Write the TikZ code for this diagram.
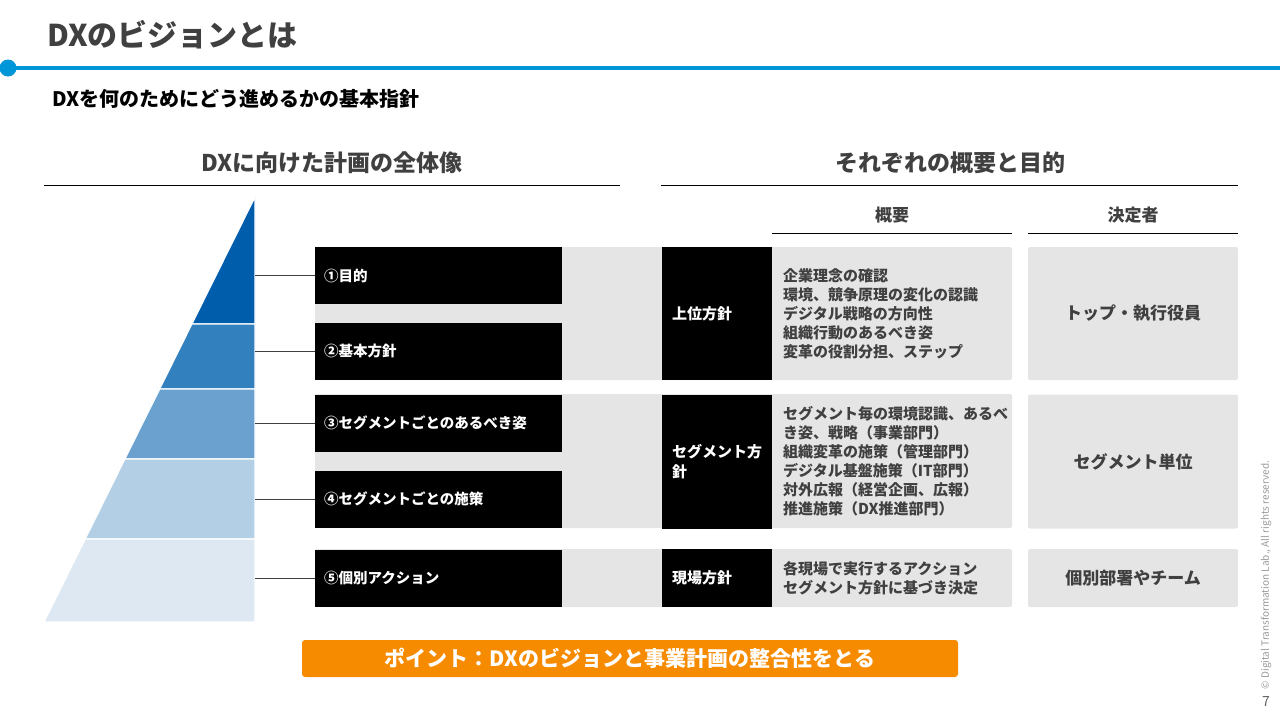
\documentclass[tikz,border=0pt]{standalone}
\usepackage{fontspec}
\setmainfont{Noto Sans CJK JP}

\definecolor{inkgray}{HTML}{404040}
\definecolor{ruleblue}{HTML}{0096D8}
\definecolor{panelgray}{HTML}{E5E5E5}
\definecolor{pointorange}{HTML}{F78B00}
\definecolor{tierA}{HTML}{005DAC}
\definecolor{tierB}{HTML}{3380BF}
\definecolor{tierC}{HTML}{6AA1CF}
\definecolor{tierD}{HTML}{B3CFE5}
\definecolor{tierE}{HTML}{DDE8F3}

\begin{document}
\begin{tikzpicture}[x=1pt, y=-1pt,
  every node/.style={inner sep=0pt},
  headtext/.style={text=inkgray, font=\bfseries\fontsize{23}{26}\selectfont},
  colhead/.style={text=inkgray, font=\bfseries\fontsize{17}{20}\selectfont},
  lvbox/.style={fill=black, text=white, text width=229pt, inner xsep=9pt, align=left,
    minimum height=57pt, font=\bfseries\fontsize{14.5}{18}\selectfont},
  polbox/.style={fill=black, text=white, text width=90pt, inner xsep=10pt, align=left,
    font=\bfseries\fontsize{15}{20}\selectfont},
  desc/.style={anchor=west, text=inkgray, align=left, font=\bfseries\fontsize{15}{19}\selectfont},
  whobox/.style={fill=panelgray, rounded corners=2pt, minimum width=210pt, text=inkgray,
    font=\bfseries\fontsize{17}{20}\selectfont},
  tier/.style={draw=white, line width=1.2pt}]
\useasboundingbox (0,0) rectangle (1280,720);

% title and blue rule
\node[anchor=west, text=inkgray, font=\bfseries\fontsize{30}{34}\selectfont] (title) at (47,35) {DXのビジョンとは};
\node[circle, fill=ruleblue, minimum size=17pt] (dot) at (8,68) {};
\coordinate (ruleend) at (1280,68);
\draw[ruleblue, line width=3.5pt] (dot.center) -- (ruleend);
\node[anchor=west, font=\bfseries\fontsize{20}{23}\selectfont] (subtitle) at (52,99) {DXを何のためにどう進めるかの基本指針};

% section headings
\node[headtext] (headL) at (332,163) {DXに向けた計画の全体像};
\draw[line width=1pt] (44,185) -- (620,185);
\node[headtext] (headR) at (950,163) {それぞれの概要と目的};
\draw[line width=1pt] (661,185) -- (1238,185);
\node[colhead] (hGaiyo) at (892,215) {概要};
\draw[line width=1pt] (772,233) -- (1012,233);
\node[colhead] (hKettei) at (1133,215) {決定者};
\draw[line width=1pt] (1028,233) -- (1238,233);

% pyramid
\fill[tierA, tier] (255,197) -- (191.9,324) -- (255,324) -- cycle;
\fill[tierB, tier] (191.9,324) -- (159.7,389) -- (255,389) -- (255,324) -- cycle;
\fill[tierC, tier] (159.7,389) -- (124.9,459) -- (255,459) -- (255,389) -- cycle;
\fill[tierD, tier] (124.9,459) -- (85.2,539) -- (255,539) -- (255,459) -- cycle;
\fill[tierE, tier] (85.2,539) -- (44,622) -- (255,622) -- (255,539) -- cycle;

% gray rows
\fill[panelgray, rounded corners=2pt] (315,247) rectangle (1012,380);
\fill[panelgray, rounded corners=2pt] (315,394) rectangle (1012,528);
\fill[panelgray, rounded corners=2pt] (315,549) rectangle (1012,607);

% levels
\node[lvbox] (lv1) at (438.5,275.5) {①目的};
\node[lvbox] (lv2) at (438.5,351) {②基本方針};
\node[lvbox] (lv3) at (438.5,423) {③セグメントごとのあるべき姿};
\node[lvbox] (lv4) at (438.5,499) {④セグメントごとの施策};
\node[lvbox] (lv5) at (438.5,578) {⑤個別アクション};

\coordinate (t1) at (255,275.5);
\coordinate (t2) at (255,351);
\coordinate (t3) at (255,423);
\coordinate (t4) at (255,499);
\coordinate (t5) at (255,578);
\draw[inkgray, line width=1pt] (t1) -- (lv1.west);
\draw[inkgray, line width=1pt] (t2) -- (lv2.west);
\draw[inkgray, line width=1pt] (t3) -- (lv3.west);
\draw[inkgray, line width=1pt] (t4) -- (lv4.west);
\draw[inkgray, line width=1pt] (t5) -- (lv5.west);

% policies
\node[polbox, minimum height=133pt] (pol1) at (717,313.5) {上位方針};
\node[polbox, minimum height=134pt] (pol2) at (717,461.5) {セグメント方\\針};
\node[polbox, minimum height=58pt] (pol3) at (717,578) {現場方針};

\node[desc] (desc1) at (783,313.5) {企業理念の確認\\環境、競争原理の変化の認識\\デジタル戦略の方向性\\組織行動のあるべき姿\\変革の役割分担、ステップ};
\node[desc] (desc2) at (783,461.5) {セグメント毎の環境認識、あるべ\\き姿、戦略（事業部門）\\組織変革の施策（管理部門）\\デジタル基盤施策（IT部門）\\対外広報（経営企画、広報）\\推進施策（DX推進部門）};
\node[desc] (desc3) at (783,578) {各現場で実行するアクション\\セグメント方針に基づき決定};

% deciders
\node[whobox, minimum height=133pt] (who1) at (1133,313.5) {トップ・執行役員};
\node[whobox, minimum height=134pt] (who2) at (1133,461.5) {セグメント単位};
\node[whobox, minimum height=58pt] (who3) at (1133,578) {個別部署やチーム};

% key point
\node[fill=pointorange, rounded corners=3pt, minimum width=656pt, minimum height=37pt,
  text=white, font=\bfseries\fontsize{21}{24}\selectfont] (point) at (630,658.5) {ポイント：DXのビジョンと事業計画の整合性をとる};

% footer
\node[rotate=90, text=black!40, font=\fontsize{10}{11}\selectfont] (copy) at (1266,575) {© Digital Transformation Lab., All rights reserved.};
\node[text=inkgray!80, font=\fontsize{14}{16}\selectfont] (pageno) at (1266,702) {7};
\end{tikzpicture}
\end{document}
